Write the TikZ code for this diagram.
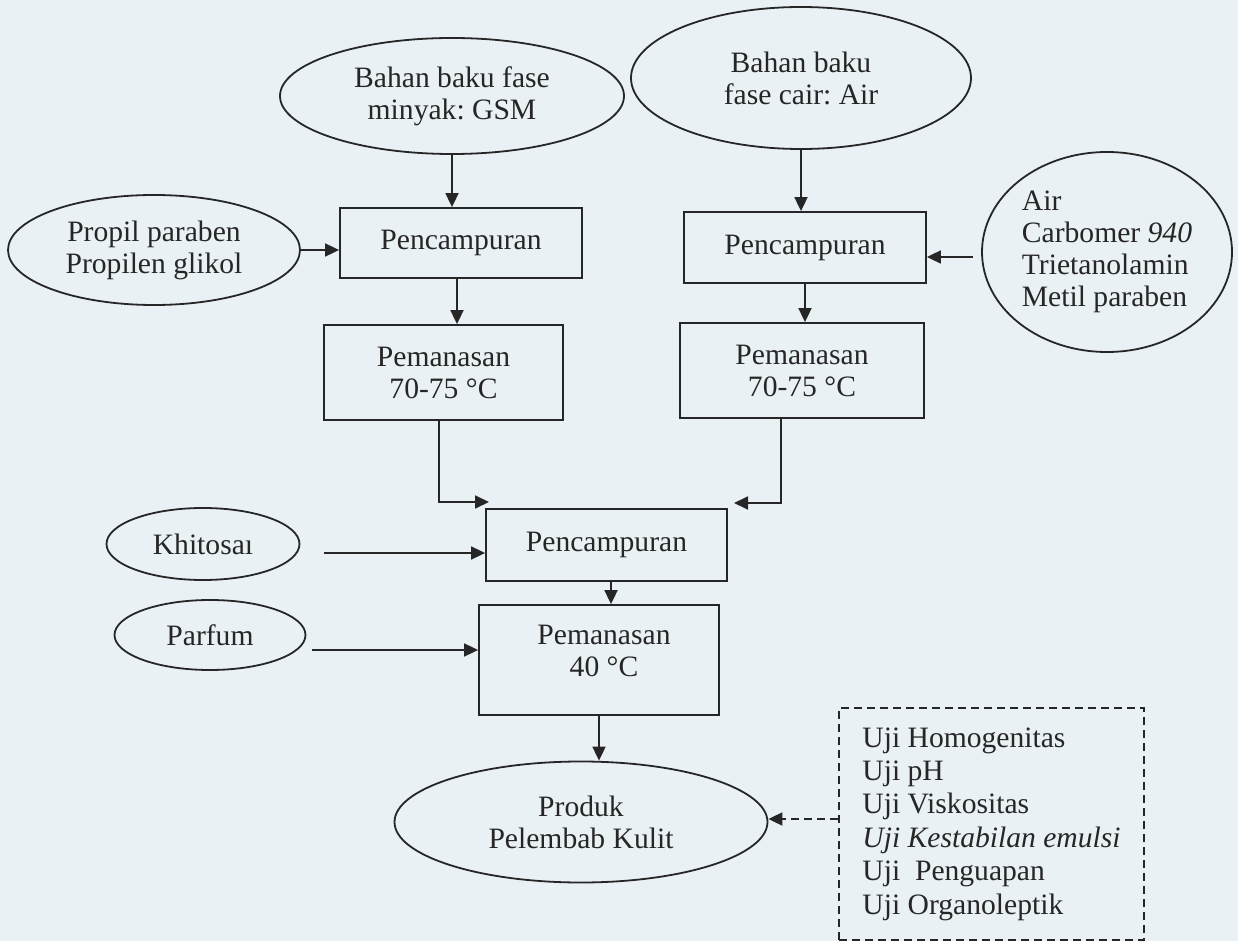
\documentclass[tikz,border=0pt]{standalone}
\usepackage{fontspec}
\setmainfont{Liberation Serif}
\usetikzlibrary{shapes.geometric,arrows.meta,calc}
\definecolor{paper}{RGB}{234,241,244}
\definecolor{ink}{RGB}{38,38,38}
\tikzset{
  base/.style={draw=ink, line width=0.9pt, text=ink, font=\fontsize{14.8}{16}\selectfont, align=center, inner sep=0pt},
  oval/.style={base, ellipse},
  stepbox/.style={base, rectangle},
  arr/.style={draw=ink, line width=0.9pt, -{Triangle[length=7pt,width=6.5pt]}},
  darr/.style={arr, dashed, dash pattern=on 4pt off 2.5pt},
}
\begin{document}
\frenchspacing
\begin{tikzpicture}[x=0.5pt,y=-0.5pt]
\fill[paper] (0,0) rectangle (1238,941);
\useasboundingbox (0,0) rectangle (1238,941);

% left column
\node[oval, minimum width=172pt, minimum height=58pt] (gsm) at (452,96) {Bahan baku fase\\minyak: GSM};
\node[oval, minimum width=146pt, minimum height=55pt] (propil) at (154,250) {Propil paraben\\Propilen glikol};
\node[stepbox, minimum width=121pt, minimum height=35pt] (pc1) at (461,243) {Pencampuran};
\node[stepbox, minimum width=119.5pt, minimum height=47.5pt] (pm1) at (443.5,372.5) {Pemanasan\\70-75 °C};

% right column
\node[oval, minimum width=170pt, minimum height=71pt] (air) at (801,78) {Bahan baku\\fase cair: Air};
\node[oval, minimum width=125pt, minimum height=100pt, align=left] (carb) at (1107,252) {Air\\Carbomer \textit{940}\\Trietanolamin\\Metil paraben};
\node[stepbox, minimum width=121pt, minimum height=35.5pt] (pc2) at (805,247.5) {Pencampuran};
\node[stepbox, minimum width=122pt, minimum height=47.5pt] (pm2) at (802,370.5) {Pemanasan\\70-75 °C};

% lower part
\node[stepbox, minimum width=120.5pt, minimum height=36pt] (pc3) at (606.5,545) {Pencampuran};
\node[stepbox, minimum width=120pt, minimum height=55pt] (pm3) at (599,660) {};
\node[base, draw=none] (pm3t) at (604,651) {Pemanasan\\40 °C};
\node[oval, minimum width=96.5pt, minimum height=36pt] (khit) at (203,544) {Khitosaı};
\node[oval, minimum width=95.5pt, minimum height=35pt] (parf) at (210,635) {Parfum};
\node[oval, minimum width=186.5pt, minimum height=60.5pt] (prod) at (581,822) {Produk\\Pelembab Kulit};
\node[stepbox, dashed, dash pattern=on 4pt off 2.5pt, minimum width=152.5pt, minimum height=116pt, align=left,
      font=\fontsize{14.8}{16.7}\selectfont] (uji) at (991.5,824)
  {Uji Homogenitas\\Uji pH\\Uji Viskositas\\\textit{Uji Kestabilan emulsi}\\Uji\ \ Penguapan\\Uji Organoleptik};

% connectors
\draw[arr] (gsm.south) -- (gsm.south |- pc1.north);
\draw[arr] (propil.east) -- (propil.east -| pc1.west);
\draw[arr] ($(pc1.south)+(-4,0)$) -- ($(pc1.south |- pm1.north)+(-4,0)$);
\coordinate (in1) at (489,502);
\draw[arr] ($(pm1.south)+(-4.5,0)$) |- (in1);

\draw[arr] (air.south) -- (air.south |- pc2.north);
\draw[arr, shorten <=4pt] ([yshift=-2.5pt]carb.west) -- ([yshift=-2.5pt]carb.west -| pc2.east);
\draw[arr] (pc2.south) -- (pc2.south |- pm2.north);
\coordinate (in2) at (734,503);
\draw[arr] ($(pm2.south)+(-21,0)$) |- (in2);

\draw[arr, shorten <=12pt] ([yshift=-4.5pt]khit.east) -- ([yshift=-4.5pt]khit.east -| pc3.west);
\draw[arr] ($(pc3.south)+(4.5,0)$) -- ($(pc3.south |- pm3.north)+(4.5,0)$);
\draw[arr, shorten <=3pt] ([yshift=-7.5pt]parf.east) -- ([yshift=-7.5pt]parf.east -| pm3.west);
\draw[arr] (pm3.south) -- (pm3.south |- prod.north);
\draw[darr] ([yshift=2.5pt]uji.west) -- ([yshift=2.5pt]uji.west -| prod.east);
\end{tikzpicture}
\end{document}
